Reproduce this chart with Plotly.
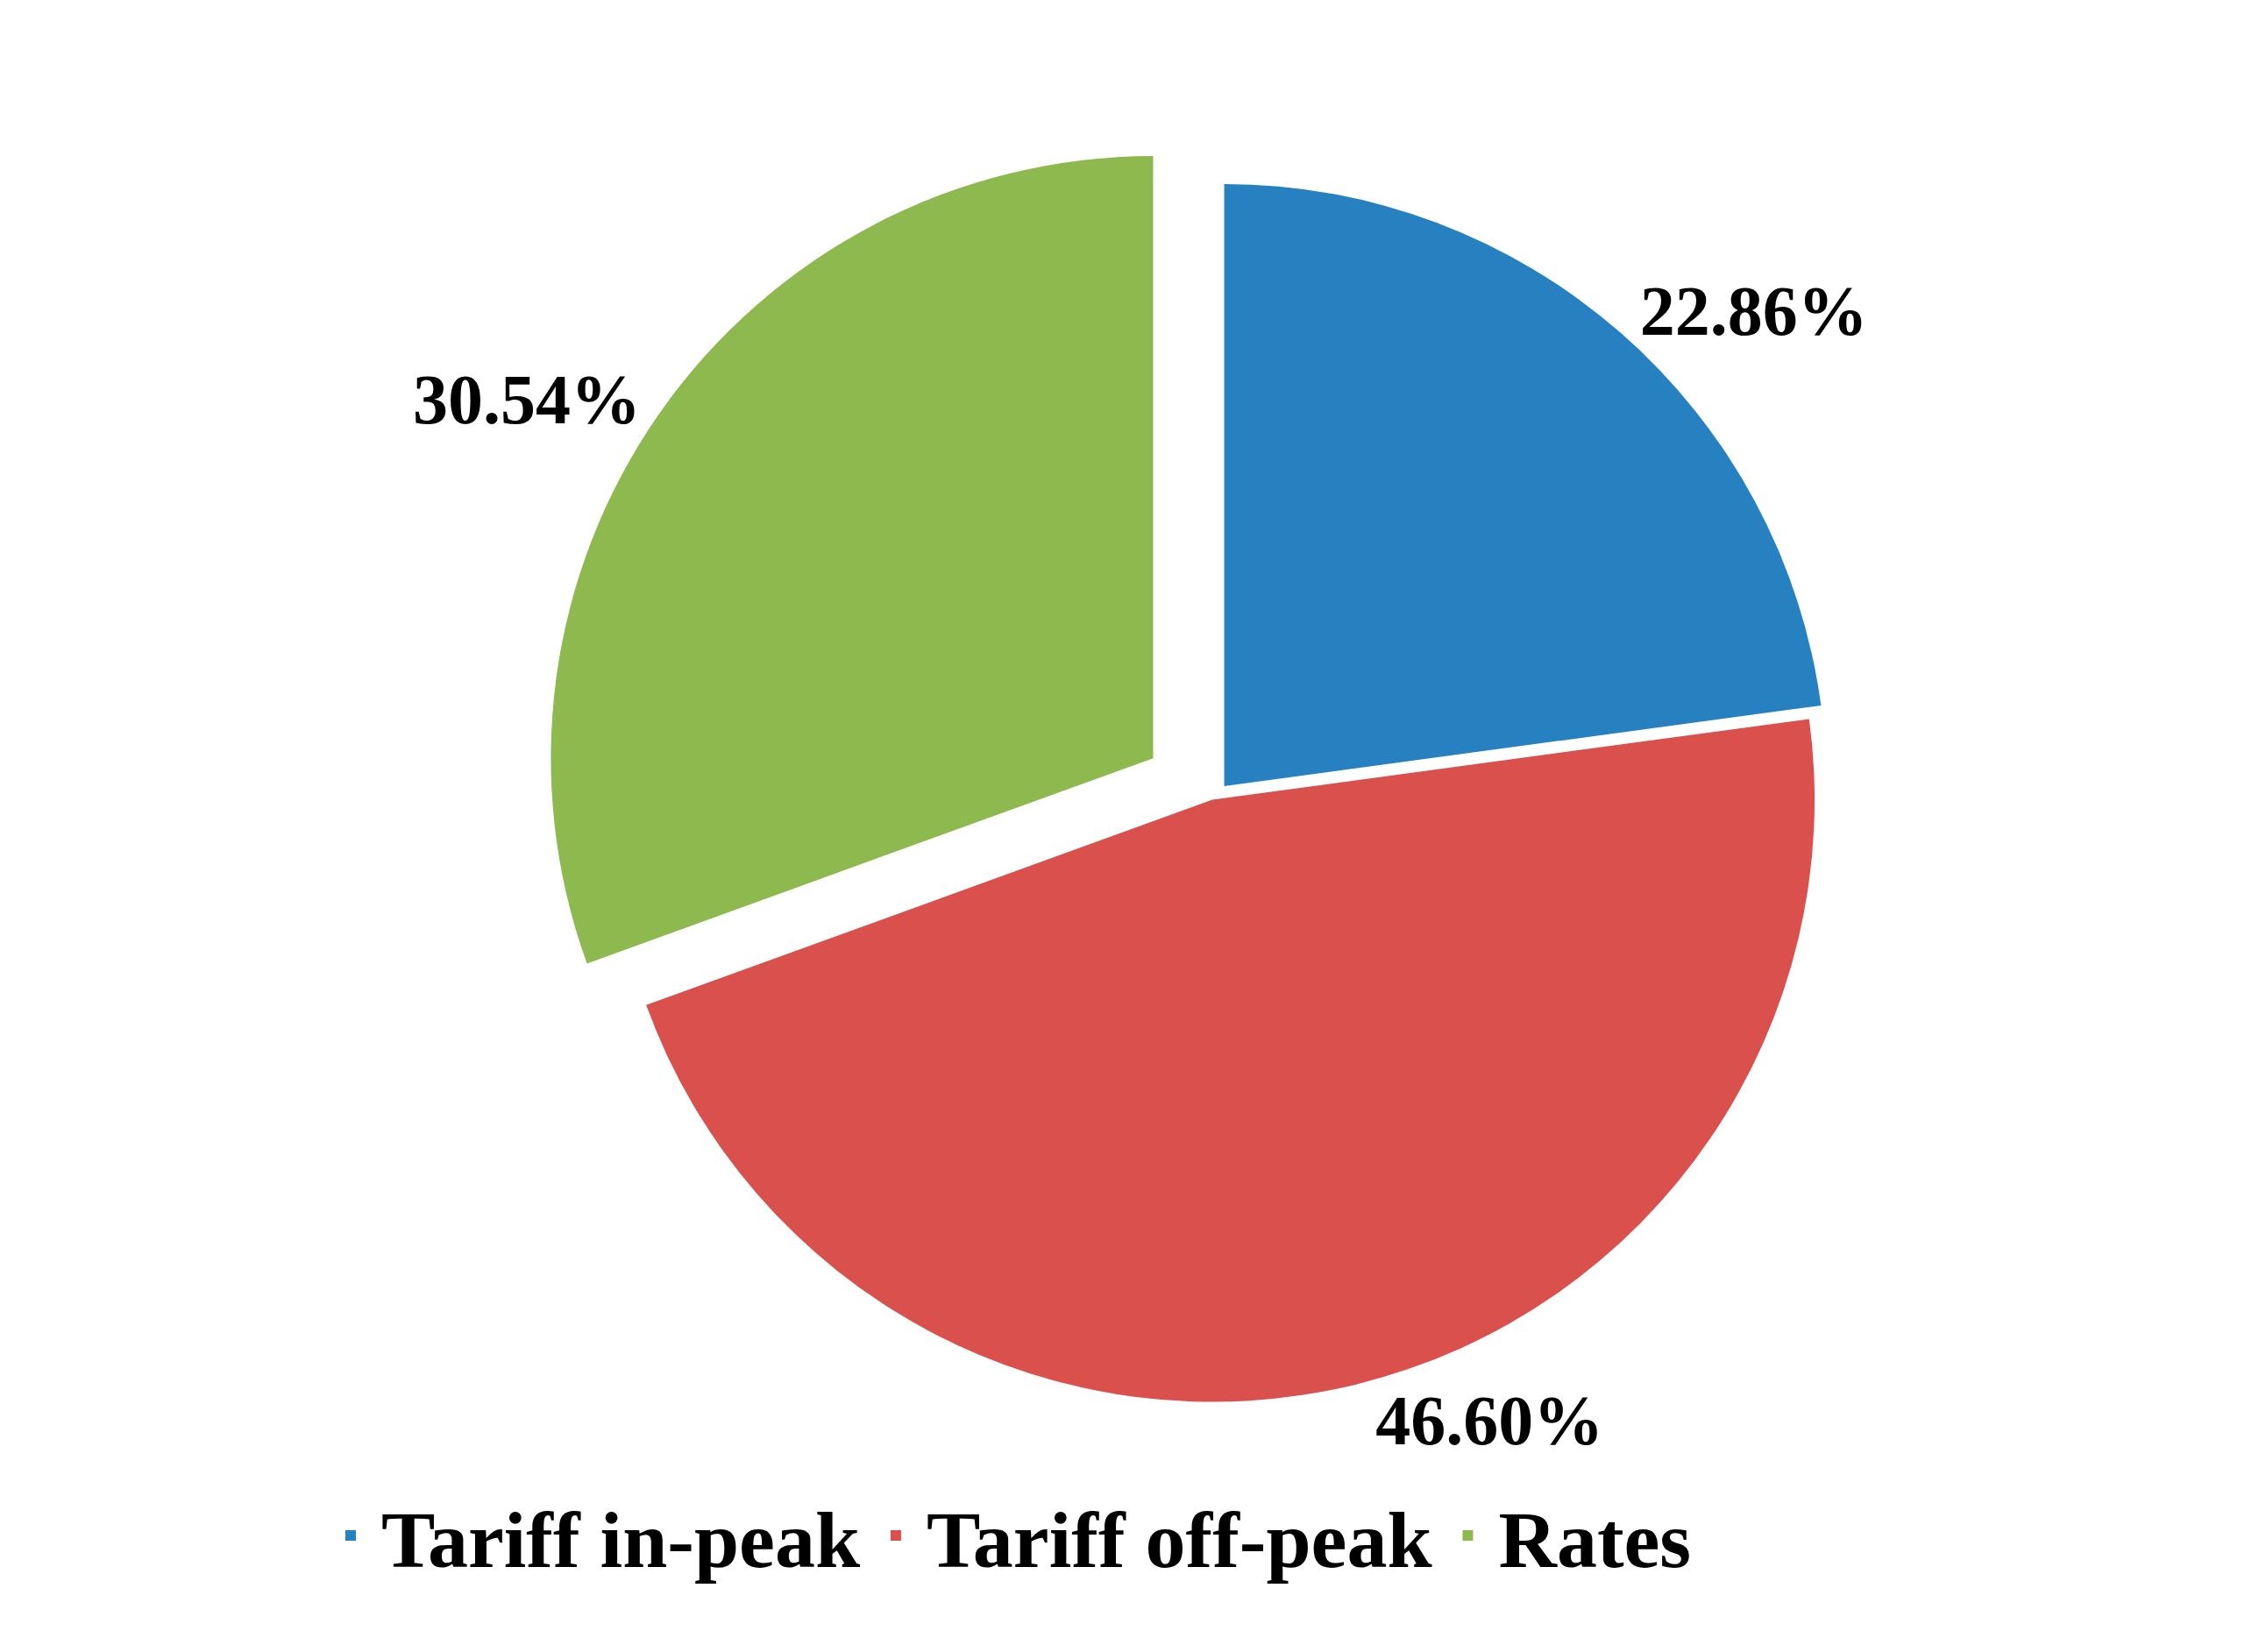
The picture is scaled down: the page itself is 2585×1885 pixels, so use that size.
import plotly.graph_objects as go

labels = ["Tariff in-peak", "Tariff off-peak", "Rates"]
values = [22.86, 46.60, 30.54]
colors = ["#2780C0", "#D9504C", "#8DB94F"]
pulls = [0.03, 0.0, 0.12]

fig = go.Figure(go.Pie(
    labels=labels, values=values, sort=False, direction="clockwise", rotation=0,
    marker=dict(colors=colors, line=dict(color="white", width=0)),
    pull=pulls, showlegend=False,
    texttemplate="<b>%{percent:.2%}</b>", textposition="outside",
    outsidetextfont=dict(family="Liberation Serif", size=80, color="black"),
    domain=dict(x=[0.05, 0.95], y=[0.1, 1.0]),
))
for l, c in zip(labels, colors):
    fig.add_trace(go.Scatter(x=[None], y=[None], mode="markers", name=f"<b>{l}</b>",
                             marker=dict(symbol="square", size=55, color=c)))
fig.update_xaxes(visible=False)
fig.update_yaxes(visible=False)
fig.update_layout(
    width=2585, height=1885,
    paper_bgcolor="white", plot_bgcolor="white",
    margin=dict(l=40, r=40, t=80, b=40),
    legend=dict(orientation="h", x=0.0, y=0.02, xanchor="left", yanchor="bottom",
                font=dict(family="Liberation Serif", size=92, color="black"),
                itemsizing="constant", itemwidth=60, tracegroupgap=0),
)
fig.write_html("out.html")
